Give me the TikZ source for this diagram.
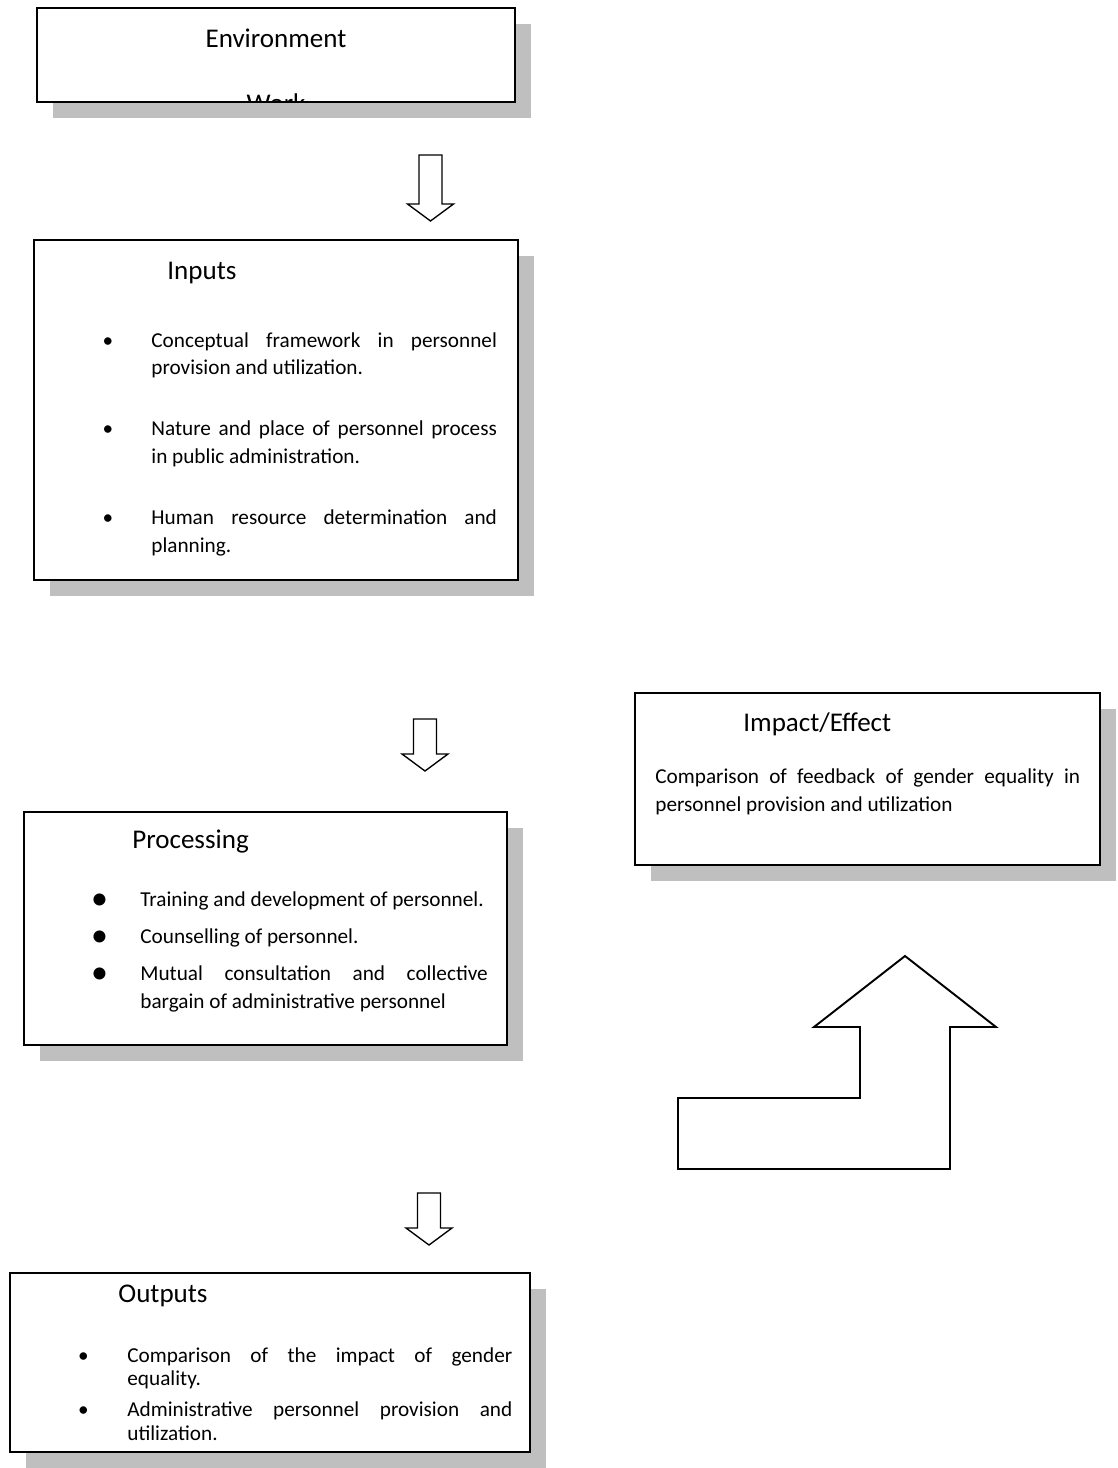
\documentclass[tikz,border=0pt]{standalone}
\usepackage{fontspec}
\setmainfont{Carlito}
\usetikzlibrary{fit,shadows}
\definecolor{shadowgray}{RGB}{191,191,191}
\hyphenpenalty=10000
\exhyphenpenalty=10000
% bullet hung in the left margin of a list item
\newcommand{\bul}[2][22.5pt]{\leavevmode\llap{\makebox[0pt]{#2}\hspace{#1}}}
\newcommand{\bigdot}{\raisebox{-1.8pt}{\scalebox{1.6}{\textbullet}}}
\tikzset{
  panel/.style={draw, line width=1pt, fill=white, inner sep=0pt,
    drop shadow={shadow xshift=8.3pt, shadow yshift=-8.3pt, opacity=1, fill=shadowgray}},
  boxtitle/.style={anchor=base west, inner sep=0pt, font=\fontsize{14}{17}\selectfont},
  body/.style={anchor=base west, inner sep=0pt, align=justify, text width=#1,
    font=\fontsize{11}{14.5}\selectfont},
  blockline/.style={draw, line width=0.7pt},
  pics/downarrow/.style={code={
    \draw[blockline] (-11.5,0) -- (11.5,0) -- (11.5,#1) -- (23,#1) -- (0,#1+17)
      -- (-23,#1) -- (-11.5,#1) -- cycle;
  }}
}
\begin{document}
\begin{tikzpicture}[x=0.518pt, y=-0.518pt]
  \useasboundingbox (0,0) rectangle (1117,1468);

  % environment
  \node[panel, fit={(37,8) (515,102)}] (env) {};
  \node[boxtitle, anchor=base] (envtitle) at (276,48) {Environment};
  \begin{scope}
    \clip (env.north west) rectangle ([yshift=0.8pt]env.south east);
    \node[boxtitle, anchor=base] (work) at (276,112) {Work};
  \end{scope}

  \pic (arrA) at (430.5,155) {downarrow=49};

  % inputs
  \node[panel, fit={(34,240) (518,580)}] (inputs) {};
  \node[boxtitle] (intitle) at (167,279) {Inputs};
  \node[body=179pt, font=\fontsize{11}{14.5}\selectfont] (inlist) at (151,347) {%
    \bul{\textbullet}Conceptual framework in personnel\linebreak provision and utilization.\par\vspace{17pt}
    \bul{\textbullet}Nature and place of personnel process\linebreak in public administration.\par\vspace{17pt}
    \bul{\textbullet}Human resource determination and\linebreak planning.};

  \pic (arrB) at (425,719) {downarrow=35};

  % processing
  \node[panel, fit={(24,812) (507,1045)}] (proc) {};
  \node[boxtitle] (proctitle) at (132,848) {Processing};
  \node[body=180pt] (proclist) at (140,906) {%
    \bul[21.2pt]{\bigdot}Training and development of personnel.\par\vspace{4.7pt}
    \bul[21.2pt]{\bigdot}Counselling of personnel.\par\vspace{4.7pt}
    \bul[21.2pt]{\bigdot}Mutual consultation and collective\linebreak bargain of administrative personnel};

  % impact / effect
  \node[panel, fit={(635,693) (1100,865)}] (impact) {};
  \node[boxtitle] (imptitle) at (743,731) {Impact/Effect};
  \node[body=220pt] (impbody) at (655,783) {Comparison of feedback of gender equality in\linebreak personnel provision and utilization};

  % feedback arrow
  \draw[blockline, line width=1pt] (905,956) -- (996,1027) -- (950,1027) -- (950,1169)
    -- (678,1169) -- (678,1098) -- (860,1098) -- (860,1027) -- (814,1027) -- cycle;

  \pic (arrC) at (429,1193) {downarrow=35};

  % outputs
  \node[panel, fit={(10,1273) (530,1452)}] (outputs) {};
  \node[boxtitle] (outtitle) at (118,1302) {Outputs};
  \node[body=199.4pt, font=\fontsize{11}{12.3}\selectfont] (outlist) at (127,1362) {%
    \bul[22.8pt]{\textbullet}Comparison of the impact of gender\linebreak equality.\par\vspace{3.5pt}
    \bul[22.8pt]{\textbullet}Administrative personnel provision and\linebreak utilization.};
\end{tikzpicture}
\end{document}
